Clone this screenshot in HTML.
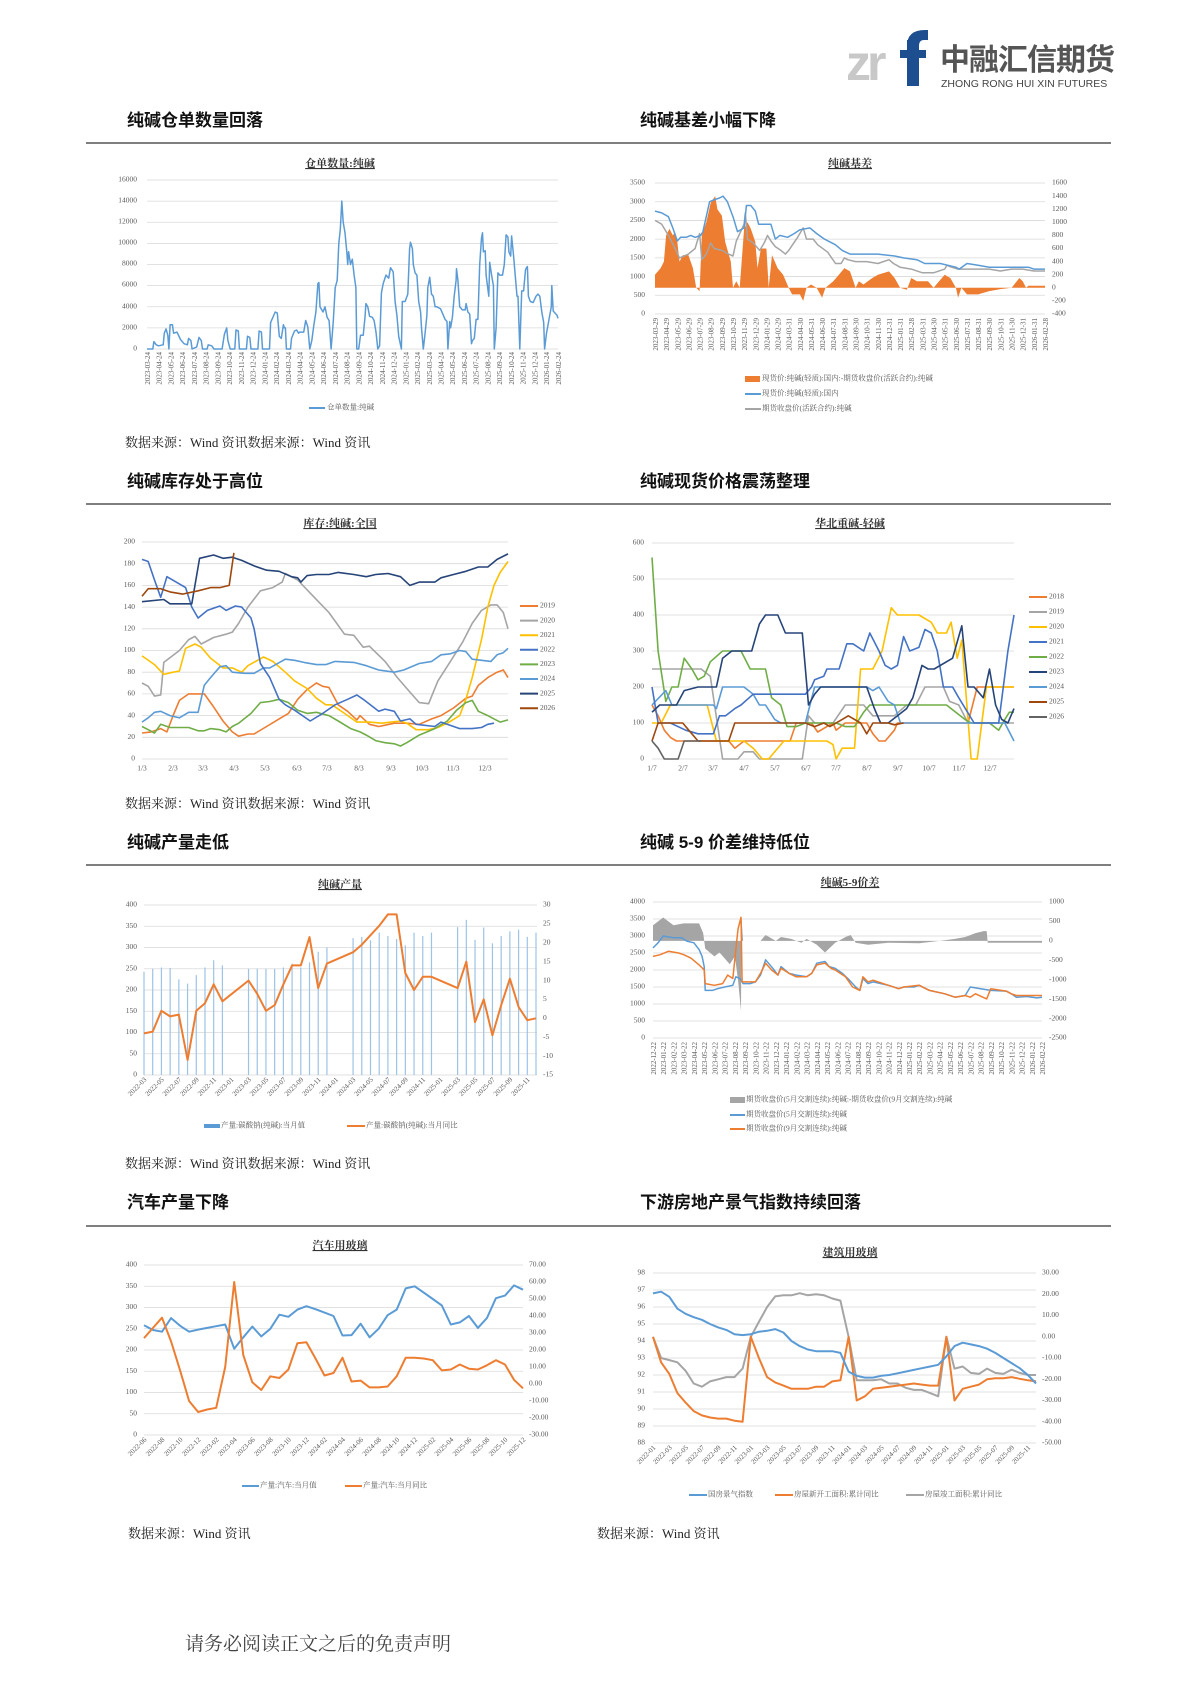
<!DOCTYPE html>
<html><head><meta charset="utf-8"><style>
html,body{margin:0;padding:0;background:#fff}
body{width:1190px;height:1683px;position:relative;overflow:hidden}
svg{position:absolute;left:0;top:0}
.h{font-family:"Liberation Sans","Noto Sans CJK SC",sans-serif;font-size:17px;font-weight:bold;fill:#111}
.src{font-family:"Liberation Serif","Noto Serif CJK SC",serif;font-size:13px;fill:#222}
.ct{font-family:"Liberation Serif","Noto Serif CJK SC",serif;font-size:11px;font-weight:bold;fill:#333;text-anchor:middle;text-decoration:underline}
.ax{font-family:"Liberation Serif","Noto Serif CJK SC",serif;font-size:7.5px;fill:#595959;dominant-baseline:middle}
.r{text-anchor:end}
.v text{font-family:"Liberation Serif",serif;font-size:7px;fill:#595959;text-anchor:end}
.lg{font-family:"Liberation Serif","Noto Serif CJK SC",serif;font-size:7.5px;fill:#595959;dominant-baseline:middle}
</style></head><body>
<svg id="s" width="1190" height="1683" xmlns="http://www.w3.org/2000/svg">
<text x="846" y="80" font-family="Liberation Sans,sans-serif" font-size="50" font-weight="bold" fill="#c8c8c8" letter-spacing="-4">zr</text>
<rect x="907" y="40" width="12" height="46" fill="#1d4e8f"/>
<path d="M907 46 Q907 30 925 30 L928 30 L928 40 L924 40 Q919 40 919 46 Z" fill="#1d4e8f"/>
<rect x="900" y="50" width="26" height="8" fill="#1d4e8f"/>
<text x="940" y="70" font-family="Noto Sans CJK SC,sans-serif" font-size="30" font-weight="bold" fill="#555" letter-spacing="-1">中融汇信期货</text>
<text x="941" y="87" font-family="Liberation Sans,sans-serif" font-size="10.5" fill="#444">ZHONG RONG HUI XIN FUTURES</text>

<text class="h" x="127" y="126">纯碱仓单数量回落</text>
<text class="h" x="640" y="126">纯碱基差小幅下降</text>
<text class="h" x="127" y="487">纯碱库存处于高位</text>
<text class="h" x="640" y="487">纯碱现货价格震荡整理</text>
<text class="h" x="127" y="848">纯碱产量走低</text>
<text class="h" x="640" y="848">纯碱 5-9 价差维持低位</text>
<text class="h" x="127" y="1208">汽车产量下降</text>
<text class="h" x="640" y="1208">下游房地产景气指数持续回落</text>
<g stroke="#333" stroke-width="1.3"><line x1="86" y1="143" x2="1111" y2="143"/><line x1="86" y1="504" x2="1111" y2="504"/><line x1="86" y1="865" x2="1111" y2="865"/><line x1="86" y1="1226" x2="1111" y2="1226"/></g>

<text class="src" x="125" y="447">数据来源：Wind 资讯数据来源：Wind 资讯</text>
<text class="src" x="125" y="808">数据来源：Wind 资讯数据来源：Wind 资讯</text>
<text class="src" x="125" y="1168">数据来源：Wind 资讯数据来源：Wind 资讯</text>
<text class="src" x="128" y="1538">数据来源：Wind 资讯</text>
<text class="src" x="597" y="1538">数据来源：Wind 资讯</text>
<text x="185" y="1650" font-family="Liberation Serif,Noto Serif CJK SC,serif" font-size="19" fill="#444">请务必阅读正文之后的免责声明</text>

<text class="ct" x="340" y="167">仓单数量:纯碱</text>
<text class="ct" x="850" y="167">纯碱基差</text>
<text class="ct" x="340" y="527">库存:纯碱:全国</text>
<text class="ct" x="850" y="527">华北重碱-轻碱</text>
<text class="ct" x="340" y="888">纯碱产量</text>
<text class="ct" x="850" y="886">纯碱5-9价差</text>
<text class="ct" x="340" y="1249">汽车用玻璃</text>
<text class="ct" x="850" y="1256">建筑用玻璃</text>

<g id="grids"></g>
<g id="series"></g>

<g class="ax r"><text x="137" y="180">16000</text><text x="137" y="201">14000</text><text x="137" y="222">12000</text><text x="137" y="243">10000</text><text x="137" y="264">8000</text><text x="137" y="285">6000</text><text x="137" y="307">4000</text><text x="137" y="328">2000</text><text x="137" y="349">0</text></g>
<g class="v">
<text transform="translate(150,352)rotate(-90)">2023-03-24</text><text transform="translate(161.7,352)rotate(-90)">2023-04-24</text><text transform="translate(173.5,352)rotate(-90)">2023-05-24</text><text transform="translate(185.2,352)rotate(-90)">2023-06-24</text><text transform="translate(197,352)rotate(-90)">2023-07-24</text><text transform="translate(208.7,352)rotate(-90)">2023-08-24</text><text transform="translate(220.4,352)rotate(-90)">2023-09-24</text><text transform="translate(232.2,352)rotate(-90)">2023-10-24</text><text transform="translate(243.9,352)rotate(-90)">2023-11-24</text><text transform="translate(255.7,352)rotate(-90)">2023-12-24</text><text transform="translate(267.4,352)rotate(-90)">2024-01-24</text><text transform="translate(279.1,352)rotate(-90)">2024-02-24</text><text transform="translate(290.9,352)rotate(-90)">2024-03-24</text><text transform="translate(302.6,352)rotate(-90)">2024-04-24</text><text transform="translate(314.4,352)rotate(-90)">2024-05-24</text><text transform="translate(326.1,352)rotate(-90)">2024-06-24</text><text transform="translate(337.8,352)rotate(-90)">2024-07-24</text><text transform="translate(349.6,352)rotate(-90)">2024-08-24</text><text transform="translate(361.3,352)rotate(-90)">2024-09-24</text><text transform="translate(373.1,352)rotate(-90)">2024-10-24</text><text transform="translate(384.8,352)rotate(-90)">2024-11-24</text><text transform="translate(396.5,352)rotate(-90)">2024-12-24</text><text transform="translate(408.3,352)rotate(-90)">2025-01-24</text><text transform="translate(420,352)rotate(-90)">2025-02-24</text><text transform="translate(431.8,352)rotate(-90)">2025-03-24</text><text transform="translate(443.5,352)rotate(-90)">2025-04-24</text><text transform="translate(455.2,352)rotate(-90)">2025-05-24</text><text transform="translate(467,352)rotate(-90)">2025-06-24</text><text transform="translate(478.7,352)rotate(-90)">2025-07-24</text><text transform="translate(490.5,352)rotate(-90)">2025-08-24</text><text transform="translate(502.2,352)rotate(-90)">2025-09-24</text><text transform="translate(513.9,352)rotate(-90)">2025-10-24</text><text transform="translate(525.7,352)rotate(-90)">2025-11-24</text><text transform="translate(537.4,352)rotate(-90)">2025-12-24</text><text transform="translate(549.2,352)rotate(-90)">2026-01-24</text><text transform="translate(561,352)rotate(-90)">2026-02-24</text>
</g>
<line x1="309" y1="408" x2="325" y2="408" stroke="#5b9bd5" stroke-width="2"/><text class="lg" x="327" y="408">仓单数量:纯碱</text>

<g class="ax r"><text x="645" y="183">3500</text><text x="645" y="201.7">3000</text><text x="645" y="220.4">2500</text><text x="645" y="239.1">2000</text><text x="645" y="257.8">1500</text><text x="645" y="276.6">1000</text><text x="645" y="295.3">500</text><text x="645" y="314">0</text></g>
<g class="ax"><text x="1052" y="183">1600</text><text x="1052" y="196.1">1400</text><text x="1052" y="209.2">1200</text><text x="1052" y="222.3">1000</text><text x="1052" y="235.4">800</text><text x="1052" y="248.5">600</text><text x="1052" y="261.6">400</text><text x="1052" y="274.7">200</text><text x="1052" y="287.8">0</text><text x="1052" y="300.9">-200</text><text x="1052" y="314">-400</text></g>
<g class="v">
<text transform="translate(658,318)rotate(-90)">2023-03-29</text><text transform="translate(669.1,318)rotate(-90)">2023-04-29</text><text transform="translate(680.3,318)rotate(-90)">2023-05-29</text><text transform="translate(691.4,318)rotate(-90)">2023-06-29</text><text transform="translate(702.6,318)rotate(-90)">2023-07-29</text><text transform="translate(713.7,318)rotate(-90)">2023-08-29</text><text transform="translate(724.8,318)rotate(-90)">2023-09-29</text><text transform="translate(736,318)rotate(-90)">2023-10-29</text><text transform="translate(747.1,318)rotate(-90)">2023-11-29</text><text transform="translate(758.3,318)rotate(-90)">2023-12-29</text><text transform="translate(769.4,318)rotate(-90)">2024-01-29</text><text transform="translate(780.5,318)rotate(-90)">2024-02-29</text><text transform="translate(791.7,318)rotate(-90)">2024-03-31</text><text transform="translate(802.8,318)rotate(-90)">2024-04-30</text><text transform="translate(814,318)rotate(-90)">2024-05-31</text><text transform="translate(825.1,318)rotate(-90)">2024-06-30</text><text transform="translate(836.2,318)rotate(-90)">2024-07-31</text><text transform="translate(847.4,318)rotate(-90)">2024-08-31</text><text transform="translate(858.5,318)rotate(-90)">2024-09-30</text><text transform="translate(869.7,318)rotate(-90)">2024-10-31</text><text transform="translate(880.8,318)rotate(-90)">2024-11-30</text><text transform="translate(891.9,318)rotate(-90)">2024-12-31</text><text transform="translate(903.1,318)rotate(-90)">2025-01-31</text><text transform="translate(914.2,318)rotate(-90)">2025-02-28</text><text transform="translate(925.4,318)rotate(-90)">2025-03-31</text><text transform="translate(936.5,318)rotate(-90)">2025-04-30</text><text transform="translate(947.6,318)rotate(-90)">2025-05-31</text><text transform="translate(958.8,318)rotate(-90)">2025-06-30</text><text transform="translate(969.9,318)rotate(-90)">2025-07-31</text><text transform="translate(981.1,318)rotate(-90)">2025-08-31</text><text transform="translate(992.2,318)rotate(-90)">2025-09-30</text><text transform="translate(1003.3,318)rotate(-90)">2025-10-31</text><text transform="translate(1014.5,318)rotate(-90)">2025-11-30</text><text transform="translate(1025.6,318)rotate(-90)">2025-12-31</text><text transform="translate(1036.8,318)rotate(-90)">2026-01-31</text><text transform="translate(1047.9,318)rotate(-90)">2026-02-28</text>
</g>
<rect x="745" y="376" width="15" height="6" fill="#ed7d31"/><text class="lg" x="762" y="379">现货价:纯碱(轻质):国内:-期货收盘价(活跃合约):纯碱</text>
<line x1="745" y1="394" x2="761" y2="394" stroke="#5b9bd5" stroke-width="2"/><text class="lg" x="762" y="394">现货价:纯碱(轻质):国内</text>
<line x1="745" y1="409" x2="761" y2="409" stroke="#a5a5a5" stroke-width="2"/><text class="lg" x="762" y="409">期货收盘价(活跃合约):纯碱</text>

<g class="ax r"><text x="135" y="542">200</text><text x="135" y="563.7">180</text><text x="135" y="585.4">160</text><text x="135" y="607.1">140</text><text x="135" y="628.8">120</text><text x="135" y="650.5">100</text><text x="135" y="672.2">80</text><text x="135" y="693.9">60</text><text x="135" y="715.6">40</text><text x="135" y="737.3">20</text><text x="135" y="759">0</text></g>
<g class="ax" text-anchor="middle"><text x="142" y="769">1/3</text><text x="173" y="769">2/3</text><text x="203" y="769">3/3</text><text x="234" y="769">4/3</text><text x="265" y="769">5/3</text><text x="297" y="769">6/3</text><text x="327" y="769">7/3</text><text x="359" y="769">8/3</text><text x="391" y="769">9/3</text><text x="422" y="769">10/3</text><text x="453" y="769">11/3</text><text x="485" y="769">12/3</text></g>
<g class="lg"><text x="540" y="606">2019</text><text x="540" y="620.6">2020</text><text x="540" y="635.2">2021</text><text x="540" y="649.8">2022</text><text x="540" y="664.4">2023</text><text x="540" y="679">2024</text><text x="540" y="693.6">2025</text><text x="540" y="708.2">2026</text></g>

<g class="ax r"><text x="644" y="543">600</text><text x="644" y="579">500</text><text x="644" y="615">400</text><text x="644" y="651">300</text><text x="644" y="687">200</text><text x="644" y="723">100</text><text x="644" y="759">0</text></g>
<g class="ax" text-anchor="middle"><text x="652" y="769">1/7</text><text x="683" y="769">2/7</text><text x="713" y="769">3/7</text><text x="744" y="769">4/7</text><text x="775" y="769">5/7</text><text x="806" y="769">6/7</text><text x="836" y="769">7/7</text><text x="867" y="769">8/7</text><text x="898" y="769">9/7</text><text x="929" y="769">10/7</text><text x="959" y="769">11/7</text><text x="990" y="769">12/7</text></g>
<g class="lg"><text x="1049" y="597">2018</text><text x="1049" y="612">2019</text><text x="1049" y="627">2020</text><text x="1049" y="642">2021</text><text x="1049" y="657">2022</text><text x="1049" y="672">2023</text><text x="1049" y="687">2024</text><text x="1049" y="702">2025</text><text x="1049" y="717">2026</text></g>

<g class="ax r"><text x="137" y="905">400</text><text x="137" y="926.3">350</text><text x="137" y="947.5">300</text><text x="137" y="968.8">250</text><text x="137" y="990">200</text><text x="137" y="1011.3">150</text><text x="137" y="1032.5">100</text><text x="137" y="1053.8">50</text><text x="137" y="1075">0</text></g>
<g class="ax"><text x="543" y="905">30</text><text x="543" y="923.9">25</text><text x="543" y="942.8">20</text><text x="543" y="961.7">15</text><text x="543" y="980.6">10</text><text x="543" y="999.4">5</text><text x="543" y="1018.3">0</text><text x="543" y="1037.2">-5</text><text x="543" y="1056.1">-10</text><text x="543" y="1075">-15</text></g>
<g class="v">
<text transform="translate(147,1080)rotate(-45)">2022-03</text><text transform="translate(164.4,1080)rotate(-45)">2022-05</text><text transform="translate(181.8,1080)rotate(-45)">2022-07</text><text transform="translate(199.3,1080)rotate(-45)">2022-09</text><text transform="translate(216.7,1080)rotate(-45)">2022-11</text><text transform="translate(234.1,1080)rotate(-45)">2023-01</text><text transform="translate(251.5,1080)rotate(-45)">2023-03</text><text transform="translate(268.9,1080)rotate(-45)">2023-05</text><text transform="translate(286.4,1080)rotate(-45)">2023-07</text><text transform="translate(303.8,1080)rotate(-45)">2023-09</text><text transform="translate(321.2,1080)rotate(-45)">2023-11</text><text transform="translate(338.6,1080)rotate(-45)">2024-01</text><text transform="translate(356,1080)rotate(-45)">2024-03</text><text transform="translate(373.5,1080)rotate(-45)">2024-05</text><text transform="translate(390.9,1080)rotate(-45)">2024-07</text><text transform="translate(408.3,1080)rotate(-45)">2024-09</text><text transform="translate(425.7,1080)rotate(-45)">2024-11</text><text transform="translate(443.1,1080)rotate(-45)">2025-01</text><text transform="translate(460.6,1080)rotate(-45)">2025-03</text><text transform="translate(478,1080)rotate(-45)">2025-05</text><text transform="translate(495.4,1080)rotate(-45)">2025-07</text><text transform="translate(512.8,1080)rotate(-45)">2025-09</text><text transform="translate(530.2,1080)rotate(-45)">2025-11</text>
</g>
<rect x="204" y="1124" width="16" height="4" fill="#5b9bd5"/><text class="lg" x="221" y="1126">产量:碳酸钠(纯碱):当月值</text>
<line x1="347" y1="1126" x2="365" y2="1126" stroke="#ed7d31" stroke-width="2"/><text class="lg" x="366" y="1126">产量:碳酸钠(纯碱):当月同比</text>

<g class="ax r"><text x="645" y="902">4000</text><text x="645" y="919">3500</text><text x="645" y="936">3000</text><text x="645" y="953">2500</text><text x="645" y="970">2000</text><text x="645" y="987">1500</text><text x="645" y="1004">1000</text><text x="645" y="1021">500</text><text x="645" y="1038">0</text></g>
<g class="ax"><text x="1049" y="902">1000</text><text x="1049" y="921.4">500</text><text x="1049" y="940.9">0</text><text x="1049" y="960.3">-500</text><text x="1049" y="979.7">-1000</text><text x="1049" y="999.1">-1500</text><text x="1049" y="1018.6">-2000</text><text x="1049" y="1038">-2500</text></g>
<g class="v">
<text transform="translate(656,1042)rotate(-90)">2022-12-22</text><text transform="translate(666.2,1042)rotate(-90)">2023-01-22</text><text transform="translate(676.5,1042)rotate(-90)">2023-02-22</text><text transform="translate(686.7,1042)rotate(-90)">2023-03-22</text><text transform="translate(697,1042)rotate(-90)">2023-04-22</text><text transform="translate(707.2,1042)rotate(-90)">2023-05-22</text><text transform="translate(717.4,1042)rotate(-90)">2023-06-22</text><text transform="translate(727.7,1042)rotate(-90)">2023-07-22</text><text transform="translate(737.9,1042)rotate(-90)">2023-08-22</text><text transform="translate(748.2,1042)rotate(-90)">2023-09-22</text><text transform="translate(758.4,1042)rotate(-90)">2023-10-22</text><text transform="translate(768.6,1042)rotate(-90)">2023-11-22</text><text transform="translate(778.9,1042)rotate(-90)">2023-12-22</text><text transform="translate(789.1,1042)rotate(-90)">2024-01-22</text><text transform="translate(799.4,1042)rotate(-90)">2024-02-22</text><text transform="translate(809.6,1042)rotate(-90)">2024-03-22</text><text transform="translate(819.8,1042)rotate(-90)">2024-04-22</text><text transform="translate(830.1,1042)rotate(-90)">2024-05-22</text><text transform="translate(840.3,1042)rotate(-90)">2024-06-22</text><text transform="translate(850.6,1042)rotate(-90)">2024-07-22</text><text transform="translate(860.8,1042)rotate(-90)">2024-08-22</text><text transform="translate(871,1042)rotate(-90)">2024-09-22</text><text transform="translate(881.3,1042)rotate(-90)">2024-10-22</text><text transform="translate(891.5,1042)rotate(-90)">2024-11-22</text><text transform="translate(901.8,1042)rotate(-90)">2024-12-22</text><text transform="translate(912,1042)rotate(-90)">2025-01-22</text><text transform="translate(922.2,1042)rotate(-90)">2025-02-22</text><text transform="translate(932.5,1042)rotate(-90)">2025-03-22</text><text transform="translate(942.7,1042)rotate(-90)">2025-04-22</text><text transform="translate(953,1042)rotate(-90)">2025-05-22</text><text transform="translate(963.2,1042)rotate(-90)">2025-06-22</text><text transform="translate(973.4,1042)rotate(-90)">2025-07-22</text><text transform="translate(983.7,1042)rotate(-90)">2025-08-22</text><text transform="translate(993.9,1042)rotate(-90)">2025-09-22</text><text transform="translate(1004.2,1042)rotate(-90)">2025-10-22</text><text transform="translate(1014.4,1042)rotate(-90)">2025-11-22</text><text transform="translate(1024.6,1042)rotate(-90)">2025-12-22</text><text transform="translate(1034.9,1042)rotate(-90)">2026-01-22</text><text transform="translate(1045.1,1042)rotate(-90)">2026-02-22</text>
</g>
<rect x="730" y="1097" width="15" height="6" fill="#a5a5a5"/><text class="lg" x="746" y="1100">期货收盘价(5月交割连续):纯碱:-期货收盘价(9月交割连续):纯碱</text>
<line x1="730" y1="1115" x2="745" y2="1115" stroke="#5b9bd5" stroke-width="2"/><text class="lg" x="746" y="1115">期货收盘价(5月交割连续):纯碱</text>
<line x1="730" y1="1129" x2="745" y2="1129" stroke="#ed7d31" stroke-width="2"/><text class="lg" x="746" y="1129">期货收盘价(9月交割连续):纯碱</text>

<g class="ax r"><text x="137" y="1265">400</text><text x="137" y="1286.3">350</text><text x="137" y="1307.5">300</text><text x="137" y="1328.8">250</text><text x="137" y="1350">200</text><text x="137" y="1371.3">150</text><text x="137" y="1392.5">100</text><text x="137" y="1413.8">50</text><text x="137" y="1435">0</text></g>
<g class="ax"><text x="529" y="1265">70.00</text><text x="529" y="1282">60.00</text><text x="529" y="1299">50.00</text><text x="529" y="1316">40.00</text><text x="529" y="1333">30.00</text><text x="529" y="1350">20.00</text><text x="529" y="1367">10.00</text><text x="529" y="1384">0.00</text><text x="529" y="1401">-10.00</text><text x="529" y="1418">-20.00</text><text x="529" y="1435">-30.00</text></g>
<g class="v">
<text transform="translate(147,1440)rotate(-45)">2022-06</text><text transform="translate(165,1440)rotate(-45)">2022-08</text><text transform="translate(183.1,1440)rotate(-45)">2022-10</text><text transform="translate(201.1,1440)rotate(-45)">2022-12</text><text transform="translate(219.2,1440)rotate(-45)">2023-02</text><text transform="translate(237.2,1440)rotate(-45)">2023-04</text><text transform="translate(255.3,1440)rotate(-45)">2023-06</text><text transform="translate(273.3,1440)rotate(-45)">2023-08</text><text transform="translate(291.4,1440)rotate(-45)">2023-10</text><text transform="translate(309.4,1440)rotate(-45)">2023-12</text><text transform="translate(327.5,1440)rotate(-45)">2024-02</text><text transform="translate(345.5,1440)rotate(-45)">2024-04</text><text transform="translate(363.6,1440)rotate(-45)">2024-06</text><text transform="translate(381.6,1440)rotate(-45)">2024-08</text><text transform="translate(399.7,1440)rotate(-45)">2024-10</text><text transform="translate(417.7,1440)rotate(-45)">2024-12</text><text transform="translate(435.8,1440)rotate(-45)">2025-02</text><text transform="translate(453.8,1440)rotate(-45)">2025-04</text><text transform="translate(471.9,1440)rotate(-45)">2025-06</text><text transform="translate(489.9,1440)rotate(-45)">2025-08</text><text transform="translate(508,1440)rotate(-45)">2025-10</text><text transform="translate(526,1440)rotate(-45)">2025-12</text>
</g>
<line x1="242" y1="1486" x2="259" y2="1486" stroke="#5b9bd5" stroke-width="2"/><text class="lg" x="260" y="1486">产量:汽车:当月值</text>
<line x1="345" y1="1486" x2="362" y2="1486" stroke="#ed7d31" stroke-width="2"/><text class="lg" x="363" y="1486">产量:汽车:当月同比</text>

<g class="ax r"><text x="645" y="1273">98</text><text x="645" y="1290">97</text><text x="645" y="1307">96</text><text x="645" y="1324">95</text><text x="645" y="1341">94</text><text x="645" y="1358">93</text><text x="645" y="1375">92</text><text x="645" y="1392">91</text><text x="645" y="1409">90</text><text x="645" y="1426">89</text><text x="645" y="1443">88</text></g>
<g class="ax"><text x="1042" y="1273">30.00</text><text x="1042" y="1294.3">20.00</text><text x="1042" y="1315.5">10.00</text><text x="1042" y="1336.8">0.00</text><text x="1042" y="1358">-10.00</text><text x="1042" y="1379.3">-20.00</text><text x="1042" y="1400.5">-30.00</text><text x="1042" y="1421.8">-40.00</text><text x="1042" y="1443">-50.00</text></g>
<g class="v">
<text transform="translate(656,1448)rotate(-45)">2022-01</text><text transform="translate(672.3,1448)rotate(-45)">2022-03</text><text transform="translate(688.6,1448)rotate(-45)">2022-05</text><text transform="translate(704.9,1448)rotate(-45)">2022-07</text><text transform="translate(721.2,1448)rotate(-45)">2022-09</text><text transform="translate(737.5,1448)rotate(-45)">2022-11</text><text transform="translate(753.8,1448)rotate(-45)">2023-01</text><text transform="translate(770.1,1448)rotate(-45)">2023-03</text><text transform="translate(786.4,1448)rotate(-45)">2023-05</text><text transform="translate(802.7,1448)rotate(-45)">2023-07</text><text transform="translate(819,1448)rotate(-45)">2023-09</text><text transform="translate(835.3,1448)rotate(-45)">2023-11</text><text transform="translate(851.6,1448)rotate(-45)">2024-01</text><text transform="translate(867.9,1448)rotate(-45)">2024-03</text><text transform="translate(884.2,1448)rotate(-45)">2024-05</text><text transform="translate(900.5,1448)rotate(-45)">2024-07</text><text transform="translate(916.8,1448)rotate(-45)">2024-09</text><text transform="translate(933.1,1448)rotate(-45)">2024-11</text><text transform="translate(949.4,1448)rotate(-45)">2025-01</text><text transform="translate(965.7,1448)rotate(-45)">2025-03</text><text transform="translate(982,1448)rotate(-45)">2025-05</text><text transform="translate(998.3,1448)rotate(-45)">2025-07</text><text transform="translate(1014.6,1448)rotate(-45)">2025-09</text><text transform="translate(1030.9,1448)rotate(-45)">2025-11</text>
</g>
<line x1="689" y1="1495" x2="707" y2="1495" stroke="#5b9bd5" stroke-width="2"/><text class="lg" x="708" y="1495">国房景气指数</text>
<line x1="775" y1="1495" x2="793" y2="1495" stroke="#ed7d31" stroke-width="2"/><text class="lg" x="794" y="1495">房屋新开工面积:累计同比</text>
<line x1="906" y1="1495" x2="924" y2="1495" stroke="#a5a5a5" stroke-width="2"/><text class="lg" x="925" y="1495">房屋竣工面积:累计同比</text>
</svg>
<script>
var NS="http://www.w3.org/2000/svg",G=document.getElementById('grids'),SE=document.getElementById('series');
function el(p,t,a){var e=document.createElementNS(NS,t);for(var k in a)e.setAttribute(k,a[k]);p.appendChild(e);return e;}
function grid(x0,x1,y0,y1,n){for(var k=0;k<=n;k++){var y=y0+(y1-y0)*k/n;el(G,'line',{x1:x0,x2:x1,y1:y,y2:y,stroke:'#d9d9d9','stroke-width':0.8});}}
function mp(d,X0,X1,T1,Y0,Y1,Vt,Vb,warp){var p=[];for(var i=0;i<d.length;i+=2){var f=warp?warp(d[i]):d[i]/T1;p.push((X0+(X1-X0)*f).toFixed(1)+','+(Y0+(Y1-Y0)*(Vt-d[i+1])/(Vt-Vb)).toFixed(1));}return p;}
function line(p,c,w){el(SE,'polyline',{points:p.join(' '),fill:'none',stroke:c,'stroke-width':w||1.6,'stroke-linejoin':'round'});}
function arr(a){var r=[];for(var i=0;i<a.length;i++)if(a[i]!==null)r.push(i,a[i]);return r;}
grid(147,558,180,349,8);grid(655,1045,183,314,7);grid(142,508,542,759,10);grid(652,1014,543,759,6);
grid(144,537,905,1075,8);grid(653,1042,902,1038,8);grid(144,523,1265,1435,8);grid(653,1036,1273,1443,10);
var K=[[0,0],[11.1,0.312],[17.65,0.474],[37.2,0.907],[41.2,1]];
function warp1(t){for(var i=1;i<K.length;i++){if(t<=K[i][0]){var a=K[i-1],b=K[i];return a[1]+(t-a[0])/(b[0]-a[0])*(b[1]-a[1]);}}return 1;}
var c1=[0,0,0.5,0,0.6,700,0.8,400,1.0,300,1.4,400,1.5,1500,1.65,1900,1.8,1300,1.9,0,2.0,2300,2.2,2300,2.3,1500,2.6,1600,2.9,900,3.2,500,3.5,400,3.6,1000,3.8,800,3.9,0,4.3,200,4.5,1100,4.7,800,4.8,0,5.2,0,5.3,400,5.6,300,5.8,0,6.5,0,6.7,1400,6.9,2000,7.0,800,7.2,0,7.6,0,7.7,1800,7.9,1700,8.0,0,8.6,0,8.7,1200,8.9,1100,9.0,0,9.6,0,9.7,1700,9.9,1600,10.0,0,10.6,0,10.7,2500,11.1,3500,11.3,3400,11.5,1200,11.7,1000,11.9,2300,12.0,2000,12.1,2000,12.2,0,12.6,0,12.7,1000,13.0,1700,13.2,1800,13.4,1500,13.5,1600,13.9,1600,14.1,2700,14.3,2100,14.5,0,14.7,800,14.9,2300,15.1,3500,15.3,6200,15.4,6300,15.5,4000,15.8,3500,16.0,4000,16.2,3000,16.4,2700,16.6,0,16.8,2500,17.0,5800,17.2,6500,17.35,10000,17.5,11300,17.65,14000,17.8,12000,18.0,11000,18.2,9200,18.3,8000,18.4,9200,18.6,8000,18.8,8500,19.0,7000,19.2,5800,19.3,0,19.5,0,19.7,1300,20.0,1300,20.2,3000,20.3,4300,20.5,4000,20.7,3100,21.0,3000,21.2,2700,21.4,1600,21.6,0,21.8,300,22.0,5300,22.2,6200,22.5,7000,22.8,6700,23.0,7700,23.3,7300,23.5,4500,23.7,3200,23.9,1200,24.0,800,24.2,0,24.3,4500,24.6,4500,24.9,5200,25.1,9500,25.2,10100,25.4,9500,25.5,8000,25.7,7200,25.9,7000,26.1,4500,26.3,3500,26.4,2000,26.6,0,26.8,1500,27.0,3200,27.1,5800,27.3,6800,27.5,5200,27.7,5000,27.9,4000,28.1,4000,28.5,3800,28.8,3200,29.0,2800,29.2,2600,29.3,0,29.5,2600,29.6,2000,29.8,3000,30.0,5000,30.2,6500,30.25,7600,30.4,6500,30.6,4000,30.9,3700,31.2,3700,31.3,4300,31.5,3500,31.7,3300,31.9,500,32.0,800,32.2,1000,32.4,2800,32.6,2800,32.8,8000,33.0,10500,33.1,11000,33.2,9200,33.4,9300,33.5,7000,33.8,5000,33.9,8200,34.1,7000,34.3,6000,34.4,0,34.6,2000,34.8,7200,35.0,7000,35.3,7000,35.5,8000,35.7,10800,35.9,10600,36.0,9200,36.2,8800,36.3,10700,36.5,9000,36.7,7000,36.9,5000,37.0,5000,37.2,0,37.4,5500,37.6,5500,37.8,7500,37.9,7700,38.0,7800,38.1,5000,38.3,4500,38.6,4400,38.9,5000,39.1,5200,39.3,5000,39.5,3500,39.7,2500,39.8,0,40.0,1500,40.3,3000,40.5,4000,40.55,6000,40.7,3600,40.9,3400,41.1,3200,41.2,2900];
line(mp(c1,147,558,41.2,180,349,16000,0,warp1),'#5b9bd5',1.5);
var ob=[0,200,0.5,300,0.8,400,1.0,800,1.3,900,1.6,800,1.8,850,2.0,700,2.2,400,2.5,500,3.0,500,3.4,300,3.7,0,4.0,-50,4.2,800,4.6,1000,5.0,1300,5.4,1400,5.6,1200,6.0,1100,6.3,700,6.8,400,7.0,0,7.3,100,7.6,0,8.0,900,8.3,1000,8.6,900,9.0,700,9.2,300,9.5,600,10.0,600,10.2,0,10.5,500,11.0,300,11.5,200,12.0,0,12.3,-100,13.0,-100,13.3,-200,13.6,0,14.0,50,14.5,0,15.0,-150,15.3,0,16.0,100,16.5,200,17.0,300,17.5,250,18.0,0,18.3,100,18.7,50,19.5,150,20.0,200,21.0,250,21.5,150,22.0,0,22.6,-30,23.0,150,23.5,100,24.5,100,25.0,0,25.5,100,26.0,200,26.5,150,27.0,0,27.2,-150,27.5,0,28.0,-100,29.0,-100,30.0,-50,31.0,-20,32.0,0,32.7,150,33.0,100,33.3,0,33.5,30,34.0,30,35.0,30];
var p=mp(ob,655,1045,35,183,314,1600,-400);p.unshift('655,287.8');p.push('1045,287.8');
el(SE,'polygon',{points:p.join(' '),fill:'#ed7d31'});
line(mp([0,2500,0.6,2400,1.2,2100,1.8,1750,2.2,1500,3.0,1600,3.6,1750,4.0,2150,4.2,1450,4.6,1600,5.0,1900,5.3,1750,6.0,1700,6.6,1600,7.0,1550,7.3,1950,8.0,2400,8.1,2700,8.3,2000,8.8,1900,9.4,1700,9.8,1900,10.1,2100,10.4,1950,10.8,1800,11.3,1700,11.7,1600,12.0,1700,12.8,2050,13.3,2300,13.6,2000,14.2,2000,14.6,1850,15.5,1650,16.2,1350,16.7,1350,17.0,1500,17.3,1450,18.0,1400,19.0,1400,20.0,1350,21.0,1450,21.4,1350,22.0,1250,23.0,1200,24.0,1100,25.0,1100,26.0,1200,26.2,1300,26.6,1250,27.2,1200,28,1200,29,1200,30,1200,31,1150,32,1200,33,1200,34,1150,35,1150],655,1045,35,183,314,3500,0),'#a5a5a5',1.5);
line(mp([0,2750,0.6,2700,1.2,2600,1.6,2300,2.0,1950,2.3,2050,2.8,2050,3.2,2100,3.6,2050,4.1,2100,4.3,2200,4.9,3000,5.3,3050,5.8,3100,6.1,3150,6.5,3000,7.0,2600,7.4,2200,8.0,2300,8.2,2900,8.6,2900,9.0,2750,9.3,2400,9.6,2400,10.4,2400,10.8,2000,11.2,2100,11.9,2050,12.5,2150,13.0,2250,13.9,2300,14.5,2150,15.2,2000,16.2,1850,16.8,1700,17.5,1600,18.2,1600,20.0,1600,21.5,1550,22.3,1500,23.5,1450,24.2,1350,25.6,1350,27.0,1250,27.3,1200,28.0,1350,29.0,1300,30.0,1250,31.6,1250,32.5,1250,33.5,1250,34.0,1200,35.0,1200],655,1045,35,183,314,3500,0),'#5b9bd5',1.5);
function c3(d,c){line(mp(d,142,508,11.75,542,759,200,0),c,1.6);}
c3([0,24,0.3,25,0.6,28,0.8,25,1.0,40,1.2,54,1.5,60,1.8,60,2.0,60,2.3,48,2.6,35,2.9,25,3.1,21,3.4,23,3.6,23,4.0,30,4.4,37,4.7,42,5.0,55,5.3,64,5.6,70,5.8,67,6.0,66,6.3,50,6.6,44,6.9,36,7.0,40,7.3,32,7.6,30,8.1,33,8.5,33,8.9,32,9.3,37,9.6,40,10.0,47,10.4,56,10.6,58,10.8,68,11.1,75,11.4,80,11.6,82,11.75,75],'#ed7d31');
c3([0,70,0.2,67,0.4,58,0.6,59,0.7,89,1.2,100,1.5,110,1.7,113,1.9,106,2.3,112,2.7,115,2.9,117,3.1,125,3.4,140,3.8,155,4.2,158,4.5,163,4.6,171,5.0,165,5.5,150,6.0,135,6.5,115,6.8,114,7.1,103,7.3,104,7.8,90,8.2,75,8.5,65,8.9,52,9.2,51,9.5,72,9.9,90,10.3,108,10.6,125,10.9,137,11.2,142,11.4,142,11.6,135,11.75,120],'#a5a5a5');
c3([0,95,0.4,87,0.7,78,1.0,80,1.2,81,1.4,102,1.7,106,1.9,103,2.2,93,2.6,84,2.9,84,3.2,80,3.4,86,3.9,94,4.2,90,4.6,80,4.9,72,5.3,65,5.6,56,5.9,50,6.1,50,6.5,42,6.9,34,7.3,34,7.7,33,8.0,34,8.3,35,8.5,33,8.8,27,9.2,27,9.5,29,9.8,33,10.2,40,10.4,55,10.6,75,10.9,110,11.1,140,11.3,160,11.5,172,11.75,182],'#ffc000');
c3([0,34,0.2,38,0.4,43,0.6,44,0.9,40,1.2,38,1.5,43,1.8,43,2.0,68,2.2,75,2.5,85,2.7,86,2.9,80,3.3,79,3.6,79,3.9,84,4.1,84,4.6,92,4.9,91,5.2,89,5.6,87,5.9,87,6.2,90,6.8,89,7.2,86,7.6,82,8.1,80,8.4,82,8.9,88,9.3,90,9.6,96,9.9,97,10.2,100,10.4,99,10.6,92,11.2,90,11.4,96,11.6,98,11.75,102],'#5b9bd5');
c3([0,30,0.2,27,0.4,24,0.6,32,0.9,29,1.5,29,1.8,26,2.0,26,2.2,28,2.5,27,2.7,25,2.9,30,3.1,33,3.5,42,3.8,52,4.1,53,4.4,55,4.7,52,5.0,45,5.3,42,5.6,43,6.0,40,6.3,35,6.7,28,7.0,25,7.2,22,7.5,17,7.8,15,8.1,14,8.3,12,8.5,15,8.9,22,9.4,28,9.8,35,10.1,45,10.4,52,10.6,54,10.8,44,11.1,40,11.3,37,11.5,34,11.75,36],'#70ad47');
c3([0,184,0.2,182,0.4,165,0.6,149,0.8,168,1.4,158,1.6,140,1.8,130,2.1,137,2.5,141,2.7,137,3.0,141,3.2,140,3.5,130,3.6,120,3.8,88,4.1,75,4.4,55,4.6,50,4.9,45,5.4,35,5.8,42,6.2,50,6.6,55,6.9,59,7.1,55,7.6,44,7.8,46,8.1,44,8.3,35,8.6,37,8.8,32,9.4,30,9.6,34,9.9,31,10.2,28,10.6,28,10.9,29,11.1,32,11.3,33],'#4472c4');
c3([0,145,0.7,147,0.9,143,1.6,143,1.85,185,2.3,188,2.6,185,2.9,186,3.2,183,3.6,178,4.0,174,4.4,173,4.8,168,5.0,167,5.1,163,5.3,169,5.6,170,6.0,170,6.3,172,6.8,170,7.2,168,7.5,170,7.9,171,8.3,168,8.6,160,8.9,163,9.4,163,9.6,167,10.0,170,10.4,173,10.8,177,11.1,177,11.4,184,11.75,189],'#264478');
c3([0,150,0.2,157,0.6,157,0.9,154,1.3,152,1.8,155,2.2,158,2.5,158,2.8,160,2.95,190],'#9e480e');
var lc3=['#ed7d31','#a5a5a5','#ffc000','#4472c4','#70ad47','#5b9bd5','#264478','#9e480e'];
for(var i=0;i<8;i++)el(SE,'line',{x1:520,x2:538,y1:606+i*14.6,y2:606+i*14.6,stroke:lc3[i],'stroke-width':2});
function c4(d,c){line(mp(d,652,1014,11.8,543,759,600,0),c,1.6);}
c4([0,250,1.6,250,1.9,230,2.3,0,2.8,0,3.0,20,3.3,20,3.5,0,4.9,0,5.1,120,5.3,100,5.9,100,6.3,150,6.9,150,7.2,120,7.9,120,8.3,150,8.6,150,8.9,200,9.5,200,9.7,160,10.0,150,10.3,100,11.8,100],'#a5a5a5');
c4([0,150,0.2,120,0.4,80,0.6,60,0.8,50,2.5,50,2.7,30,3.0,50,4.5,50,4.7,100,5.2,100,5.4,75,5.7,90,5.9,100,6.0,80,6.3,100,7.0,100,7.2,70,7.4,50,7.6,50,7.9,80,8.0,100,10.3,100,10.6,200,11.8,200],'#ed7d31');
c4([0,100,0.3,100,0.6,150,1.8,150,2.1,50,3.0,50,3.3,30,3.6,0,3.8,0,4.3,50,5.7,50,5.9,40,6.0,0,6.2,30,6.6,30,6.8,250,7.2,250,7.5,300,7.8,420,8.0,400,8.7,400,9.1,380,9.3,350,9.6,350,9.75,380,9.95,280,10.1,330,10.4,0,10.6,0,10.9,200,11.8,200],'#ffc000');
c4([0,560,0.2,300,0.45,160,0.65,200,0.85,200,1.05,280,1.3,250,1.5,220,1.7,230,1.9,270,2.3,300,2.9,300,3.2,250,3.7,250,3.9,170,4.2,150,4.4,90,4.7,90,5.0,100,6.0,100,6.3,90,6.6,90,6.9,130,7.1,150,9.6,150,10.2,110,10.4,100,11.0,100,11.3,80,11.5,110,11.65,130,11.8,130],'#70ad47');
c4([0,150,0.45,190,0.65,150,2.0,150,2.1,140,2.3,200,3.0,200,3.3,180,3.5,150,3.7,150,4.0,110,4.2,100,5.0,100,5.3,200,7.0,200,7.2,190,7.4,200,7.7,160,7.9,150,8.1,100,11.5,100,11.8,50],'#5b9bd5');
c4([0,200,0.2,100,0.6,100,1.1,80,1.5,70,2.0,70,2.2,120,2.4,120,2.7,140,2.9,150,3.3,180,5.0,180,5.2,200,5.3,220,5.6,230,5.7,250,6.1,250,6.35,320,6.55,320,6.9,300,7.1,350,7.4,300,7.6,260,7.8,250,8.0,260,8.2,340,8.4,300,8.7,310,8.9,360,9.1,350,9.3,300,9.5,200,9.8,200,10.0,170,10.5,100,11.3,100,11.6,300,11.8,400],'#4472c4');
c4([0,130,0.25,150,0.8,150,1.05,190,1.5,200,2.1,200,2.3,280,2.6,300,3.25,300,3.5,375,3.7,400,4.1,400,4.35,350,4.9,350,5.1,150,5.3,180,5.5,200,7.0,200,7.25,140,7.45,100,7.7,100,8.3,140,8.5,170,8.8,260,9.0,250,9.2,250,9.8,280,10.1,370,10.3,200,10.5,200,10.8,170,11.0,250,11.2,150,11.4,110,11.6,100,11.8,140],'#264478');
c4([0,50,0.2,100,1.0,100,1.2,80,1.5,50,2.5,50,2.7,100,5.0,100,5.3,90,5.6,100,5.8,90,6.2,110,6.4,120,6.8,100,7.0,70,7.2,100,7.7,100,7.9,95,8.2,100],'#9e480e');
c4([0,50,0.2,30,0.4,0,0.85,0,1.05,50,1.6,50],'#636363');
var lc4=['#ed7d31','#a5a5a5','#ffc000','#4472c4','#70ad47','#264478','#5b9bd5','#9e480e','#636363'];
for(var i=0;i<9;i++)el(SE,'line',{x1:1029,x2:1047,y1:597+i*15,y2:597+i*15,stroke:lc4[i],'stroke-width':2});
var bars=[243,250,253,252,225,215,235,253,270,258,null,null,250,250,250,250,253,262,253,265,290,300,null,null,322,325,317,335,327,320,305,335,327,335,null,null,348,365,318,347,310,327,338,342,325,335];
for(var i=0;i<bars.length;i++)if(bars[i]!==null){var x=144+i*392/45,h=bars[i]/400*170;el(SE,'rect',{x:x-0.6,y:1075-h,width:1.2,height:h,fill:'#9dc3e6'});}
var yo=[-4,-3.5,2,0.5,1,-11,2,4,9,4.5,null,null,10,6.5,2,3.5,9,14,14,21.5,8,14.5,null,null,17.5,19.5,22,24.5,27.5,27.5,12,7.5,11,11,null,null,8,15,-1,5,-4.5,3.5,10.5,3,-0.5,0];
line(mp(arr(yo),144,536,45,905,1075,30,-15),'#ed7d31',2);
var sp=[0,400,1,600,2,400,3,450,4.5,450,4.9,200,5.1,-200,6,-400,6.5,-300,7.5,-600,8,-400,8.3,-1000,8.6,-1800,8.65,600,8.8,0,10.5,0,11,150,12,0,12.5,100,13.5,50,14.5,-50,15,50,16,-100,16.8,-300,17.8,-50,18.8,100,19.3,150,19.8,-50,21,-100,23,-50,26,-60,28,0,29.5,50,30.5,100,31.5,200,32.3,250,32.6,250,32.7,-50,38,-50];
var p6=mp(sp,653,1042,38,902,1038,1000,-2500);p6.unshift('653,940.9');p6.push('1042,940.9');
el(SE,'polygon',{points:p6.join(' '),fill:'#a5a5a5'});
line(mp([0,2650,0.5,2800,1,3000,2,2950,2.8,2950,3.3,2850,4,2800,4.5,2600,4.8,2400,5,2100,5.1,1400,5.8,1400,6.3,1450,7,1500,7.8,1550,8.1,1800,8.5,1750,8.8,1600,9.5,1600,10,1650,10.5,1850,11,2300,11.7,2050,12.2,1850,12.5,2100,13.3,1900,14,1850,15,1800,15.5,1900,16,2200,16.8,2250,17.2,2100,17.8,2050,18.5,1900,19.2,1700,19.8,1500,20.2,1400,20.5,1750,21,1600,21.5,1650,23,1550,24,1450,24.5,1500,25.5,1500,26,1550,27,1400,28.5,1300,29.5,1200,30.5,1250,31,1500,32,1450,33,1400,34.5,1380,35,1300,35.5,1200,36.5,1220,37.5,1180,38,1200],653,1042,38,902,1038,4000,0),'#5b9bd5',1.5);
line(mp([0,2400,0.7,2450,1.5,2550,2.5,2500,3,2450,3.7,2350,4.5,2150,5,2000,5.1,1600,6,1550,6.8,1600,7.3,1850,7.8,1750,8.3,3200,8.6,3550,8.7,1650,9.5,1650,10,1650,10.5,1900,11,2200,11.6,2000,12.2,1850,12.5,2050,13.3,1900,14,1800,15,1800,15.5,1900,16,2150,16.8,2200,17.4,2050,17.8,2000,18.8,1800,19.5,1500,20.2,1400,20.5,1800,21,1650,21.5,1700,23,1550,24,1450,24.5,1500,26,1550,27,1400,28.5,1300,29.5,1200,30.5,1250,31,1200,31.5,1300,32.6,1150,33,1450,34.5,1380,35,1300,35.5,1250,37,1250,38,1250],653,1042,38,902,1038,4000,0),'#ed7d31',1.5);
line(mp(arr([258,247,243,275,257,243,248,252,256,260,203,230,255,232,250,283,278,295,303,296,288,280,234,235,262,230,250,282,295,345,350,335,320,305,260,265,280,252,275,322,328,352,342]),144,523,42,1265,1435,400,0),'#5b9bd5',2);
line(mp(arr([27,33,39,25,8,-10,-16.5,-15,-14,10,60,17,1,-3.5,4.5,3.5,8.5,24,24.5,15,5,6.5,15.5,1.5,2,-2,-2,-1.5,4.5,15.5,15.5,15,14,8,8.5,11.5,9,8.5,11,14,11.5,2.5,-2.5]),144,523,42,1265,1435,70,-30),'#ed7d31',2);
line(mp(arr([0,-10,-11,-12,-16,-22,-23.5,-21,-20,-19,-19,-15,0,7,14,19,19.5,19.5,20.5,19.5,20,19.5,18,17,0,-20.5,-20.5,-20.5,-20,-22,-22,-24,-25,-25,-26.5,-28,0,-15,-14,-17,-17.5,-15,-17,-17.5,-15.5,-17,-18,-18]),653,1036,47,1273,1443,30,-50),'#a5a5a5',2);
line(mp(arr([0,-12,-17.5,-26.5,-31,-35,-37,-38,-38.5,-38.5,-39.5,-40,0,-10,-19,-21.5,-23,-24.5,-24.5,-24.5,-23.5,-23.5,-21,-20.5,0,-30,-28,-24.5,-24,-23.5,-23,-22.5,-22,-22.5,-23,-23,0,-30,-24.5,-23.5,-22.5,-20,-19.5,-19.5,-19,-19.8,-20.5,-21]),653,1036,47,1273,1443,30,-50),'#ed7d31',2);
line(mp(arr([96.8,96.9,96.6,95.9,95.6,95.4,95.25,95.0,94.8,94.65,94.4,94.35,94.4,94.55,94.6,94.7,94.5,94.0,93.7,93.5,93.4,93.4,93.4,93.3,92.2,91.95,91.85,91.85,91.95,92.0,92.1,92.2,92.3,92.4,92.5,92.6,93.1,93.7,93.9,93.8,93.7,93.55,93.3,93.0,92.7,92.4,92.0,91.5]),653,1036,47,1273,1443,98,88),'#5b9bd5',2);
</script>
</body></html>
